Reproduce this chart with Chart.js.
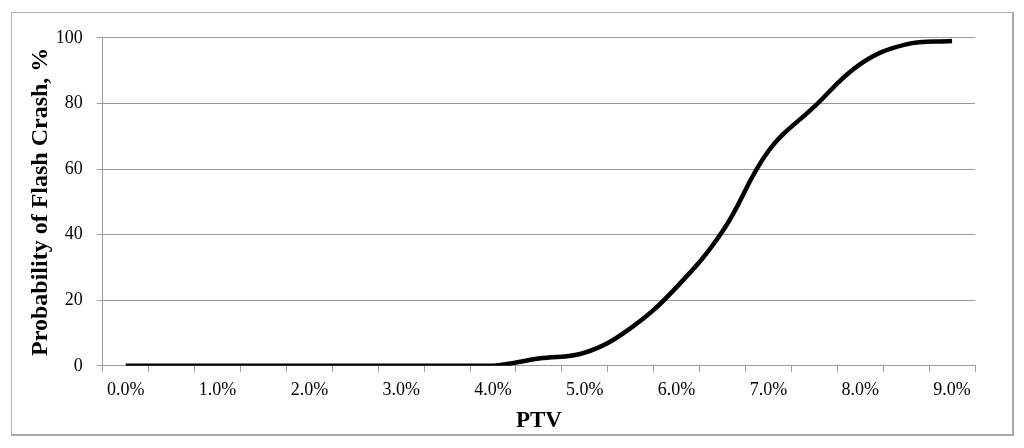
<!DOCTYPE html>
<html>
<head>
<meta charset="utf-8">
<script src="https://cdn.jsdelivr.net/npm/chart.js@4"></script>
<style>
    body { margin: 0; background: #fff; }
    #frame {
        position: absolute;
        left: 11px;
        top: 12px;
        width: 1000px;
        height: 421px;
        border: 1px solid #b4b4b4;
        border-right: 2px solid #a8a8a8;
        border-bottom: 2px solid #a8a8a8;
    }
</style>
</head>
<body>
<div id="frame"><canvas id="crashChart"></canvas></div>
<script>
// PTV categories (every half percent, labels shown on whole percents)
const ptvLabels = ['0.0%', '0.5%', '1.0%', '1.5%', '2.0%', '2.5%', '3.0%', '3.5%', '4.0%', '4.5%',
                   '5.0%', '5.5%', '6.0%', '6.5%', '7.0%', '7.5%', '8.0%', '8.5%', '9.0%'];
const crashProb = [0, 0, 0, 0, 0, 0, 0, 0, 0, 2.2, 4, 11.5, 24, 41, 65.5, 79, 92, 98, 99];
const yTicks = [0, 20, 40, 60, 80, 100];

const gridGrey = '#9a9a9a';

document.addEventListener('DOMContentLoaded', function() {
    const ctx = document.getElementById('crashChart');
    new Chart(ctx, {
        type: 'line',
        data: {
            labels: ptvLabels,
            datasets: [{
                data: crashProb,
                borderColor: '#000',
                borderWidth: 4.5,
                pointRadius: 0,
                fill: false,
                tension: 0.4
            }]
        },
        options: {
            responsive: true,
            maintainAspectRatio: false,
            animation: false,
            layout: {
                padding: { left: 14, right: 37, top: 23, bottom: -1 }
            },
            plugins: {
                legend: { display: false },
                tooltip: { enabled: false }
            },
            scales: {
                x: {
                    type: 'category',
                    offset: true,
                    border: { color: gridGrey, width: 1 },
                    grid: {
                        offset: true,
                        drawOnChartArea: false,
                        drawTicks: true,
                        tickLength: 6,
                        color: gridGrey
                    },
                    ticks: {
                        autoSkip: false,
                        maxRotation: 0,
                        padding: 8,
                        color: '#000',
                        font: { family: 'Liberation Serif', size: 18 },
                        callback: function(value, index) {
                            return index % 2 === 0 ? ptvLabels[index] : '';
                        }
                    },
                    title: {
                        display: true,
                        text: 'PTV',
                        color: '#000',
                        font: { family: 'Liberation Serif', size: 23, weight: 'bold' },
                        padding: { top: -2, bottom: 0 }
                    }
                },
                y: {
                    min: 0,
                    max: 100,
                    border: { color: gridGrey, width: 1 },
                    grid: {
                        color: gridGrey,
                        tickLength: 6
                    },
                    afterBuildTicks: function(axis) {
                        axis.ticks = yTicks.map(v => ({ value: v }));
                    },
                    ticks: {
                        padding: 14,
                        color: '#000',
                        font: { family: 'Liberation Serif', size: 18 }
                    },
                    title: {
                        display: true,
                        text: 'Probability of Flash Crash, %',
                        color: '#000',
                        font: { family: 'Liberation Serif', size: 24, weight: 'bold' },
                        padding: { top: 0, bottom: -13 }
                    }
                }
            }
        }
    });
});
</script>
</body>
</html>
